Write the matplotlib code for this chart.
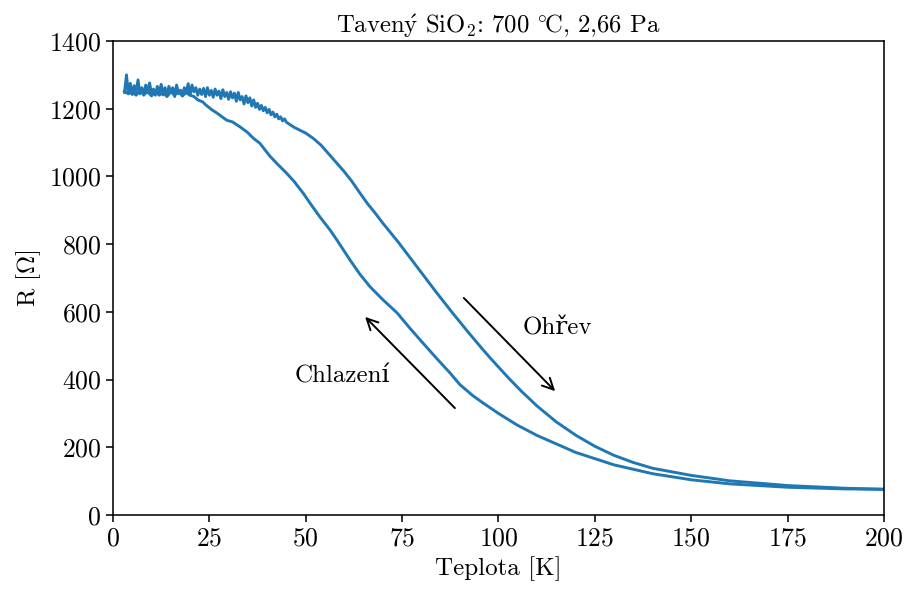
import matplotlib
matplotlib.use('Agg')
import matplotlib.pyplot as plt

plt.rcParams['font.family'] = ['cmr10', 'DejaVu Serif']
plt.rcParams['mathtext.fontset'] = 'cm'
plt.rcParams['axes.formatter.use_mathtext'] = True
plt.rcParams['font.size'] = 18
plt.rcParams['xtick.labelsize'] = 18.5
plt.rcParams['ytick.labelsize'] = 18.5
plt.rcParams['axes.labelsize'] = 18
plt.rcParams['axes.linewidth'] = 1.13
plt.rcParams['xtick.major.size'] = 4.9
plt.rcParams['ytick.major.size'] = 4.9
plt.rcParams['xtick.major.width'] = 1.13
plt.rcParams['ytick.major.width'] = 1.13

# ohrev (heating) - noisy part at low temperature, then smooth
heat_T = [3.0, 3.5, 4.0, 4.5, 5.0, 5.5, 6.0, 6.5, 7.0, 7.5, 8.0, 8.5, 9.0, 9.5,
          10.0, 10.5, 11.0, 11.5, 12.0, 12.5, 13.0, 13.5, 14.0, 14.5, 15.0, 15.5,
          16.0, 16.5, 17.0, 17.5, 18.0, 18.5, 19.0, 19.5, 20.0, 20.5, 21.0, 21.5,
          22.0, 22.5, 23.0, 23.5, 24.0, 24.5, 25.0, 25.5, 26.0, 26.5, 27.0, 27.5,
          28.0, 28.5, 29.0, 29.5, 30.0, 30.5, 31.0, 31.5, 32.0, 32.5, 33.0, 33.5,
          34.0, 34.5, 35.0, 35.5, 36.0, 36.5, 37.0, 37.5, 38.0, 38.5, 39.0, 39.5,
          40.0, 40.5, 41.0, 41.5, 42.0, 42.5, 43.0, 43.5, 44.0, 44.5, 45.0,
          47, 50, 52, 54, 56, 58, 60, 62, 64, 66, 68, 70, 72, 74, 76, 78, 80,
          82, 84, 86, 88, 90, 92, 94, 96, 98, 100, 103, 106, 110, 115, 120,
          125, 130, 135, 140, 150, 160, 175, 190, 200]
heat_R = [1248, 1300, 1245, 1275, 1242, 1268, 1250, 1285, 1244, 1262, 1240, 1270,
          1248, 1276, 1243, 1258, 1240, 1266, 1246, 1272, 1241, 1262, 1238, 1266,
          1250, 1262, 1236, 1270, 1244, 1255, 1238, 1262, 1246, 1274, 1240, 1270,
          1250, 1262, 1240, 1258, 1242, 1260, 1236, 1262, 1240, 1254, 1234, 1258,
          1240, 1252, 1230, 1256, 1236, 1248, 1228, 1250, 1232, 1246, 1222, 1248,
          1226, 1236, 1214, 1238, 1218, 1232, 1208, 1226, 1204, 1216, 1198, 1210,
          1194, 1204, 1188, 1198, 1182, 1190, 1176, 1184, 1170, 1176, 1164, 1170,
          1160,
          1145, 1128, 1112, 1092, 1066, 1040, 1014, 985, 952, 920, 892, 862, 834,
          806, 776, 746, 716, 686, 656, 627, 598, 570, 542, 515, 488, 462, 437,
          400, 365, 322, 275, 236, 203, 176, 155, 138, 117, 101, 87, 79, 76]

# chlazeni (cooling) - from 200 K down to 3 K
cool_T = [200, 190, 175, 160, 150, 140, 130, 120, 110, 104.8, 100, 96, 93.4, 90,
          87.4, 84, 80.4, 77, 73.7, 70, 66.7, 64, 61.5, 58.1, 56.3, 53.7, 51.5,
          49.3, 47, 45, 42.8, 40.7, 38.1, 36.5, 34.8, 33, 31, 29.5, 27, 25.5, 24,
          23.3, 22, 21, 20, 19, 18, 17, 16, 15, 14, 13, 12, 11, 10, 9, 8, 7, 6, 5,
          4, 3]
cool_R = [76, 77, 82, 92, 104, 122, 148, 185, 235, 266, 300, 331, 352, 385,
          420, 462, 508, 552, 597, 636, 674, 712, 753, 812, 842, 880, 915,
          951, 985, 1010, 1035, 1060, 1098, 1112, 1131, 1146, 1161, 1166, 1187, 1198, 1212,
          1220, 1226, 1236, 1240, 1248, 1238, 1252, 1240, 1250, 1236, 1248, 1240, 1252,
          1238, 1250, 1242, 1254, 1240, 1250, 1244, 1252]

fig = plt.figure(figsize=(9.06, 5.9), dpi=100)
ax = fig.add_axes([0.1247, 0.1271, 0.851, 0.8034])

ax.plot(heat_T, heat_R, color='#1f77b4', lw=2.1)
ax.plot(cool_T, cool_R, color='#1f77b4', lw=2.1)

ax.annotate('', xy=(115.2, 360), xytext=(90.5, 647),
            arrowprops=dict(arrowstyle='->', color='black', lw=1.4, mutation_scale=20))
ax.annotate('', xy=(64.9, 591), xytext=(89.2, 310),
            arrowprops=dict(arrowstyle='->', color='black', lw=1.4, mutation_scale=20))
ax.text(115.2, 552, 'Ohřev', ha='center', va='center')
ax.text(59.4, 410, 'Chlazení', ha='center', va='center')

ax.set_xlim(0, 200)
ax.set_ylim(0, 1400)
ax.set_xticks([0, 25, 50, 75, 100, 125, 150, 175, 200])
ax.set_yticks([0, 200, 400, 600, 800, 1000, 1200, 1400])
ax.set_xlabel('Teplota [K]')
ax.set_ylabel(r'R [$\Omega$]')
ax.set_title(r'Taven$\mathrm{\acute{y}}$ SiO$_2$: 700 $^{\circ}\!$C, 2,66 Pa', fontsize=17.8)

fig.savefig('out.png', dpi=100)
